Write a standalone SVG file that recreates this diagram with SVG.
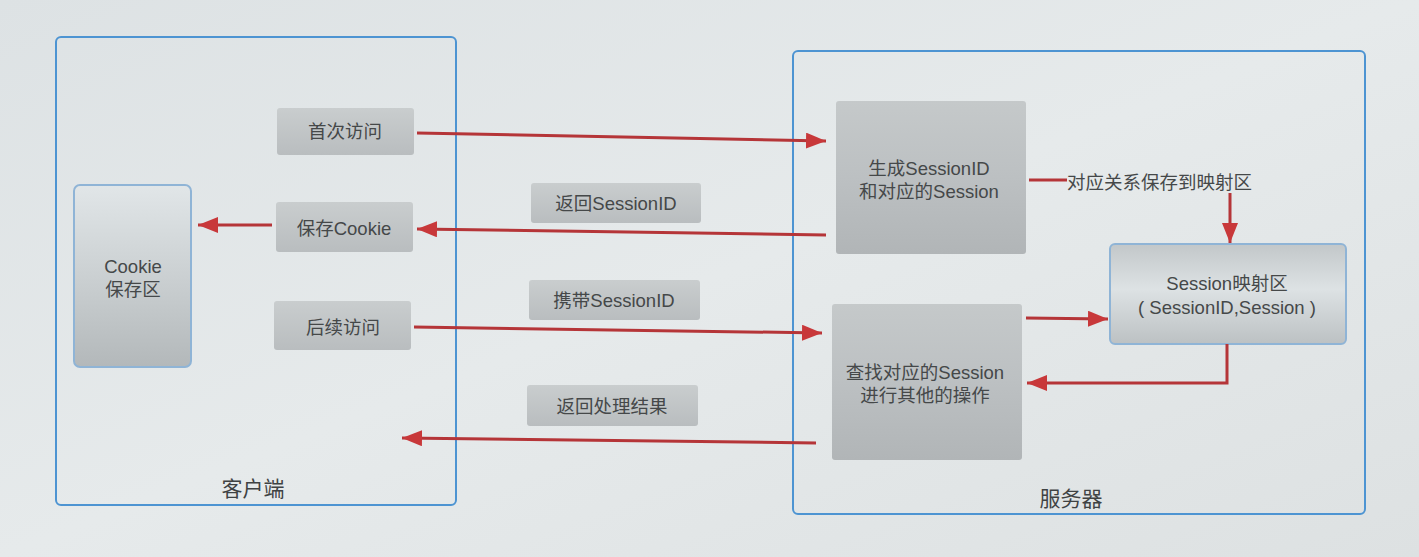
<svg xmlns="http://www.w3.org/2000/svg" width="1419" height="557" viewBox="0 0 1419 557">
<defs>
<linearGradient id="bg" x1="0" y1="0" x2="1" y2="1"><stop offset="0" stop-color="#dde2e4"/><stop offset="0.5" stop-color="#e6eaeb"/><stop offset="1" stop-color="#dde1e2"/></linearGradient>
<linearGradient id="gsmall" x1="0" y1="0" x2="0" y2="1"><stop offset="0" stop-color="#c9cdce"/><stop offset="1" stop-color="#b9bdbf"/></linearGradient>
<linearGradient id="gbig" x1="0" y1="0" x2="0" y2="1"><stop offset="0" stop-color="#c5c9ca"/><stop offset="0.5" stop-color="#bcc0c2"/><stop offset="1" stop-color="#b1b5b7"/></linearGradient>
<linearGradient id="gcookie" x1="0" y1="0" x2="0" y2="1"><stop offset="0" stop-color="#e1e6e8"/><stop offset="0.5" stop-color="#cbd0d2"/><stop offset="1" stop-color="#b3b8ba"/></linearGradient>
<linearGradient id="gmap" x1="0" y1="0" x2="0" y2="1"><stop offset="0" stop-color="#c2c7c9"/><stop offset="0.45" stop-color="#dde2e4"/><stop offset="1" stop-color="#bcc1c3"/></linearGradient>
<marker id="ah" markerUnits="userSpaceOnUse" markerWidth="22" markerHeight="16" refX="20" refY="8" orient="auto"><path d="M0,0 L20,8 L0,16 Z" fill="#c8383a"/></marker>
</defs>
<style>
.frame{fill:none;stroke:#4d94d2;stroke-width:2}
.sm{fill:url(#gsmall)}
.big{fill:url(#gbig)}
.t{font-family:"Liberation Sans","Noto Sans CJK SC",sans-serif;font-size:18.5px;fill:#454849;text-anchor:middle;dominant-baseline:central}
.tl{font-family:"Liberation Sans","Noto Sans CJK SC",sans-serif;font-size:21px;fill:#3f4243;text-anchor:middle;dominant-baseline:central}
.c{fill:none;stroke:#b53538;stroke-width:3}
</style>
<rect width="1419" height="557" fill="url(#bg)"/>
<g id="client">
<rect class="frame" x="56" y="37" width="400" height="468" rx="5"/>
<text class="tl" x="253" y="488">客户端</text>
</g>
<g id="server">
<rect class="frame" x="793" y="51" width="572" height="463" rx="5"/>
<text class="tl" x="1071" y="498">服务器</text>
</g>
<g id="cookie-store">
<rect x="74" y="185" width="117" height="182" rx="6" fill="url(#gcookie)" stroke="#8fb4d6" stroke-width="2"/>
<text class="t" x="133" y="266">Cookie</text>
<text class="t" x="133" y="289">保存区</text>
</g>
<g id="first-visit">
<rect class="sm" x="277" y="108" width="137" height="47" rx="3"/>
<text class="t" x="345" y="131">首次访问</text>
</g>
<g id="save-cookie">
<rect class="sm" x="276" y="202" width="137" height="50" rx="3"/>
<text class="t" x="344" y="228">保存Cookie</text>
</g>
<g id="later-visit">
<rect class="sm" x="274" y="301" width="137" height="49" rx="3"/>
<text class="t" x="343" y="327">后续访问</text>
</g>
<g id="label-return-id">
<rect class="sm" x="531" y="183" width="170" height="40" rx="3"/>
<text class="t" x="616" y="203">返回SessionID</text>
</g>
<g id="label-carry-id">
<rect class="sm" x="529" y="280" width="171" height="40" rx="3"/>
<text class="t" x="614" y="300">携带SessionID</text>
</g>
<g id="label-return-result">
<rect class="sm" x="527" y="385" width="171" height="41" rx="3"/>
<text class="t" x="612" y="406">返回处理结果</text>
</g>
<g id="generate">
<rect class="big" x="836" y="101" width="190" height="153" rx="3"/>
<text class="t" x="929" y="168">生成SessionID</text>
<text class="t" x="929" y="191">和对应的Session</text>
</g>
<g id="lookup">
<rect class="big" x="832" y="304" width="190" height="156" rx="3"/>
<text class="t" x="925" y="372">查找对应的Session</text>
<text class="t" x="925" y="395">进行其他的操作</text>
</g>
<g id="session-map">
<rect x="1110" y="244" width="236" height="100" rx="5" fill="url(#gmap)" stroke="#8fb4d6" stroke-width="2"/>
<text class="t" x="1227" y="283">Session映射区</text>
<text class="t" x="1227" y="307">( SessionID,Session )</text>
</g>
<g id="connectors">
<line class="c" x1="417" y1="133" x2="826" y2="141" marker-end="url(#ah)"/>
<line class="c" x1="826" y1="235" x2="417" y2="229" marker-end="url(#ah)"/>
<line class="c" x1="272" y1="225" x2="198" y2="225" marker-end="url(#ah)"/>
<line class="c" x1="414" y1="327" x2="822" y2="333" marker-end="url(#ah)"/>
<line class="c" x1="816" y1="443" x2="402" y2="438" marker-end="url(#ah)"/>
<line class="c" x1="1029" y1="180" x2="1067" y2="180"/>
<text class="t" x="1067" y="182" style="text-anchor:start">对应关系保存到映射区</text>
<line class="c" x1="1230" y1="193" x2="1230" y2="243" marker-end="url(#ah)"/>
<line class="c" x1="1026" y1="318" x2="1108" y2="319" marker-end="url(#ah)"/>
<polyline class="c" points="1227,344 1227,383 1027,383" marker-end="url(#ah)"/>
</g>
</svg>
